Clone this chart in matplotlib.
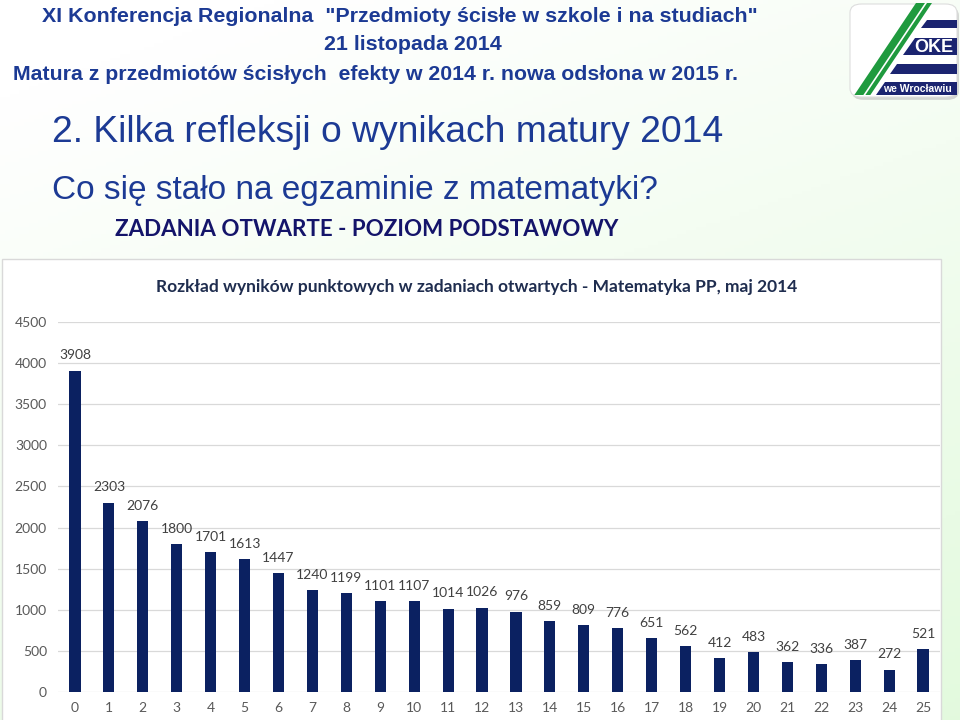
import matplotlib
matplotlib.use('Agg')
import matplotlib.pyplot as plt
import numpy as np
from matplotlib.patches import Rectangle, Polygon, FancyBboxPatch

W, H = 960, 720

# data
points = list(range(0, 26))
counts = [3908, 2303, 2076, 1800, 1701, 1613, 1447, 1240, 1199, 1101, 1107,
          1014, 1026, 976, 859, 809, 776, 651, 562, 412, 483, 362, 336, 387,
          272, 521]
yticks = list(range(0, 5000, 500))

chartTitle = 'Rozkład wyników punktowych w zadaniach otwartych - Matematyka PP, maj 2014'
header1 = 'XI Konferencja Regionalna  "Przedmioty ścisłe w szkole i na studiach"'
header2 = '21 listopada 2014'
header3 = 'Matura z przedmiotów ścisłych  efekty w 2014 r. nowa odsłona w 2015 r.'
slideTitle = '2. Kilka refleksji o wynikach matury 2014'
slideSub = 'Co się stało na egzaminie z matematyki?'
section = 'ZADANIA OTWARTE - POZIOM PODSTAWOWY'

BLUE = '#1c3a94'
NAVY = '#0b2161'


def px(x, y):
    # pixel (from top-left) -> figure fraction
    return x / W, 1 - y / H


def edge(y):
    # left edge of the green stripe of the logo
    return 853 + (97 - y) * 0.67


def main():
    fig = plt.figure(figsize=(9.6, 7.2), dpi=100)

    # slide background: white fading to pale green
    bg = fig.add_axes([0, 0, 1, 1], zorder=-10)
    yy, xx = np.mgrid[0:1:200j, 0:1:200j]
    t = np.clip(0.75 * yy + 0.35 * xx - 0.1, 0, 1)
    c0 = np.array([1.0, 1.0, 1.0])
    c1 = np.array([0.89, 0.98, 0.87])
    img = c0[None, None, :] * (1 - t[..., None]) + c1[None, None, :] * t[..., None]
    bg.imshow(img, extent=[0, 1, 0, 1], aspect='auto', origin='upper')
    bg.axis('off')

    # header texts
    fig.text(*px(400, 17), header1, ha='center', va='center', fontsize=15.4,
             fontweight='bold', color=BLUE, family='Liberation Sans')
    fig.text(*px(413, 44), header2, ha='center', va='center', fontsize=15.4,
             fontweight='bold', color=BLUE, family='Liberation Sans')
    fig.text(*px(13, 75), header3, ha='left', va='center', fontsize=15.3,
             fontweight='bold', color=BLUE, family='Liberation Sans')
    fig.text(*px(52, 132), slideTitle, ha='left', va='center', fontsize=26.8,
             color=BLUE, family='Liberation Sans')
    fig.text(*px(52, 190), slideSub, ha='left', va='center', fontsize=24,
             color=BLUE, family='Liberation Sans')
    fig.text(*px(115, 230), section, ha='left', va='center', fontsize=16.1,
             fontweight='bold', color='#14146a', family='Lato')

    # logo
    x0, y0 = px(850, 97)
    fig.patches.append(FancyBboxPatch((x0 + 0.002, y0 - 0.004), 107 / W, 93 / H,
                                      boxstyle='round,pad=0,rounding_size=0.012',
                                      transform=fig.transFigure, fc='#bbbbbb',
                                      ec='none', alpha=0.6, zorder=1))
    fig.patches.append(FancyBboxPatch((x0, y0), 107 / W, 93 / H,
                                      boxstyle='round,pad=0,rounding_size=0.012',
                                      transform=fig.transFigure, fc='white',
                                      ec='#dddddd', lw=0.8, zorder=2))
    fig.patches.append(Polygon([px(edge(95), 95), px(edge(95) + 16, 95),
                                px(edge(3) + 16, 3), px(edge(3), 3)],
                               closed=True, transform=fig.transFigure,
                               fc='#1f9a3e', ec='none', zorder=3))
    fig.patches.append(Polygon([px(edge(95) + 9, 95), px(edge(95) + 11, 95),
                                px(edge(3) + 11, 3), px(edge(3) + 9, 3)],
                               closed=True, transform=fig.transFigure,
                               fc='white', ec='none', zorder=4))
    for ya, yb in [(20, 28), (38, 55), (64, 74), (82, 95)]:
        fig.patches.append(Polygon([px(edge(ya) + 22, ya), px(957, ya),
                                    px(957, yb), px(edge(yb) + 22, yb)],
                                   closed=True, transform=fig.transFigure,
                                   fc='#1b2470', ec='none', zorder=3))
    fig.text(*px(934, 47), 'OKE', ha='center', va='center', fontsize=13,
             fontweight='bold', color='white', family='Liberation Sans', zorder=5)
    fig.text(*px(917, 89), 'we Wrocławiu', ha='center', va='center', fontsize=7.5,
             fontweight='bold', color='white', family='Liberation Sans', zorder=5)

    # white chart box
    fig.patches.append(Rectangle(px(2, 722), 939 / W, 463 / H,
                                 transform=fig.transFigure, fc='white',
                                 ec='#d9d9d9', lw=1, zorder=1))

    ax = fig.add_axes([58 / W, 28 / H, 882 / W, 370 / H], zorder=5)
    ax.patch.set_alpha(0)
    ax.bar(points, counts, width=0.33, color=NAVY, zorder=3)
    for p, c in zip(points, counts):
        ax.annotate(str(c), (p, c), xytext=(0, 11), textcoords='offset points',
                    ha='center', va='center', fontsize=10, color='#404040',
                    family='Lato')
    ax.set_xlim(-0.5, 25.5)
    ax.set_ylim(0, 4500)
    ax.set_yticks(yticks)
    ax.set_xticks(points)
    ax.grid(axis='y', color='#d9d9d9', lw=0.9, zorder=0)
    for s in ax.spines.values():
        s.set_visible(False)
    ax.tick_params(length=0, labelsize=10, labelcolor='#595959')
    ax.tick_params(axis='y', pad=8)
    ax.tick_params(axis='x', pad=7)
    for lab in ax.get_xticklabels() + ax.get_yticklabels():
        lab.set_family('Lato')

    fig.text(*px(477, 287), chartTitle, ha='center', va='center', fontsize=12.5,
             fontweight='bold', color='#1f2d4f', family='Lato', zorder=6)

    fig.savefig('out.png', dpi=100)


if __name__ == '__main__':
    main()
